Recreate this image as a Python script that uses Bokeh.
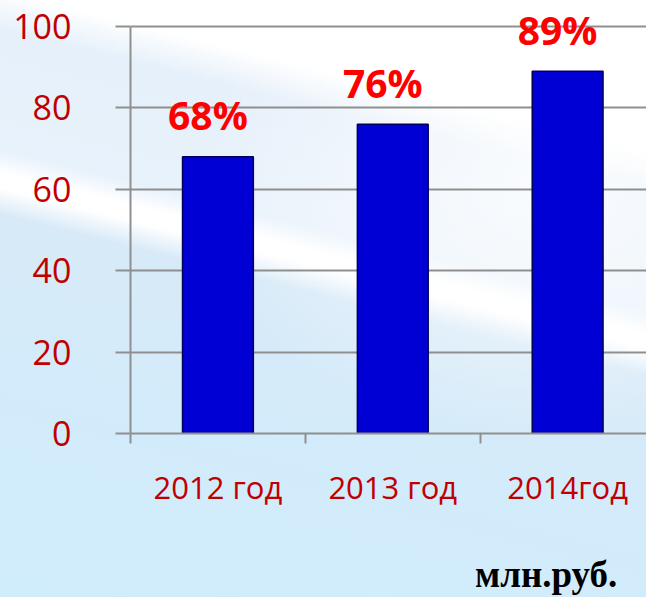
from bokeh.plotting import figure
from bokeh.models import Range1d, FixedTicker, ColumnDataSource, LinearAxis
from bokeh.core.properties import value
from bokeh.embed import file_html
from bokeh.resources import INLINE

# ---- data ----
years = ["2012 год", "2013 год", "2014год"]
values = [68, 76, 89]
pct_labels = ["68%", "76%", "89%"]
y_ticks = [0, 20, 40, 60, 80, 100]
unit_label = "млн.руб."

xs = [i + 0.5 for i in range(len(years))]
bounds = [float(i) for i in range(len(years) + 1)]
src = ColumnDataSource(dict(x=xs, top=values, label=pct_labels))

GRID = "#8F8F8F"
DARKRED = "#C00000"

p = figure(width=646, height=597, output_backend="svg", toolbar_location=None,
           x_range=Range1d(0, 2.951), y_range=Range1d(0, 106.4),
           min_border_left=130, min_border_right=0, min_border_top=0,
           min_border_bottom=164)
p.title.visible = False
p.outline_line_color = None
p.background_fill_alpha = 0
p.border_fill_alpha = 0
p.styles = {
    "background": (
        "radial-gradient(ellipse at 85% 30%, rgba(255,255,255,0.8) 0%, "
        "rgba(255,255,255,0) 45%), "
        "linear-gradient(194deg, #FFFFFF 0%, #FFFFFF 20%, #E6F0FA 25%, "
        "#E8F2FB 41%, #FFFFFF 44%, #FFFFFF 46%, #D8EAF8 49.5%, "
        "#D3EBFA 68%, #D0EDFC 100%)"
    ),
}

# grid
p.xgrid.visible = False
p.ygrid.ticker = FixedTicker(ticks=y_ticks)
p.ygrid.grid_line_color = GRID
p.ygrid.grid_line_width = 2

# y axis
ya = p.yaxis[0]
ya.ticker = FixedTicker(ticks=y_ticks)
ya.bounds = (0, 100)
ya.axis_line_color = GRID
ya.axis_line_width = 2
ya.major_tick_line_color = GRID
ya.major_tick_line_width = 2
ya.major_tick_out = 15
ya.major_tick_in = 0
ya.minor_tick_line_color = None
ya.major_label_text_font = "Open Sans"
ya.major_label_text_font_size = "34px"
ya.major_label_text_color = DARKRED
ya.major_label_standoff = 44

# x axis (categories)
xa = p.xaxis[0]
xa.ticker = FixedTicker(ticks=xs, minor_ticks=bounds)
xa.axis_line_color = GRID
xa.axis_line_width = 2
xa.major_tick_line_color = None
xa.minor_tick_line_color = GRID
xa.minor_tick_line_width = 2
xa.minor_tick_out = 10
xa.minor_tick_in = 0
xa.major_label_overrides = {x: t for x, t in zip(xs, years)}
xa.major_label_text_font = "Open Sans"
xa.major_label_text_font_size = "31px"
xa.major_label_text_color = DARKRED
xa.major_label_standoff = 22

# unit note as a second, label-only axis below (centred on its tick)
unit_x = 2.377
ua = LinearAxis(ticker=FixedTicker(ticks=[unit_x]),
                major_label_overrides={unit_x: unit_label},
                axis_line_color=None, major_tick_line_color=None,
                minor_tick_line_color=None,
                major_label_standoff=37,
                major_label_text_font="Liberation Serif",
                major_label_text_font_style="bold",
                major_label_text_font_size="37px",
                major_label_text_color="black")
p.add_layout(ua, "below")

# bars
p.vbar(x="x", top="top", width=0.405, bottom=0, source=src,
       fill_color="#0000D4", line_color="#00005A", line_width=1.5)

# data labels
p.text(x="x", y="top", text="label", source=src, x_offset=-10, y_offset=-42,
       text_align="center", text_baseline="alphabetic",
       text_font=value("Open Sans"), text_font_style="bold",
       text_font_size="39px", text_color="#FF0000")

open("out.html", "w").write(file_html(p, INLINE))
